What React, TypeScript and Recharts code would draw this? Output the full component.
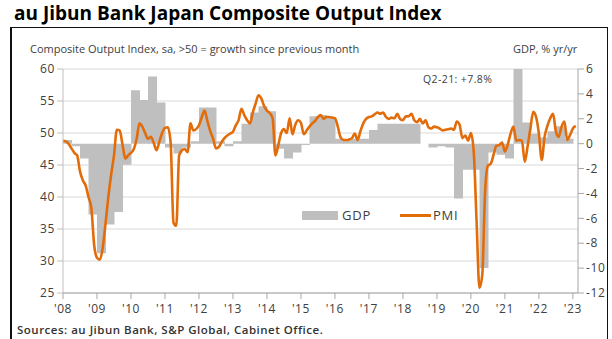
import { ComposedChart, Bar, Line, XAxis, YAxis, CartesianGrid } from "recharts";

// PMI composite output index, monthly from Jan 2008 to Feb 2023
const START_YEAR = 2008;
const pmiMonthly = [
  48.8, 48.7, 48.3, 47.6, 46.9, 46.5, 44.0, 42.6, 41.8, 40.0, 38.3, 32.5,
  30.5, 30.2, 32.0, 35.8, 40.0, 43.5, 46.5, 50.5, 50.4, 48.2, 46.0, 46.5,
  46.9, 47.5, 49.1, 51.5, 51.0, 50.0, 49.1, 49.4, 48.5, 47.3, 48.6, 50.0,
  50.8, 50.9, 48.5, 36.0, 35.5, 46.5, 47.3, 47.5, 47.0, 51.5, 50.4, 50.6,
  51.2, 52.5, 53.5, 51.8, 50.3, 49.1, 47.6, 47.8, 48.6, 49.2, 49.6, 49.9,
  50.2, 51.2, 52.0, 53.8, 52.8, 52.0, 51.5, 53.2, 54.6, 55.9, 55.4, 54.2,
  53.5, 53.1, 52.3, 46.5, 48.1, 50.0, 50.6, 50.0, 52.3, 49.8, 51.3, 52.0,
  51.6, 49.8, 50.4, 51.0, 51.5, 51.9, 52.5, 52.8, 52.2, 52.5, 52.5, 52.4,
  52.3, 51.0, 49.3, 48.9, 48.9, 49.0, 49.2, 49.9, 48.9, 50.3, 51.5, 52.2,
  52.5, 52.6, 52.9, 53.2, 53.0, 53.2, 52.5, 52.2, 52.4, 52.3, 53.0, 52.2,
  52.0, 52.6, 52.6, 53.0, 52.0, 51.7, 52.2, 51.5, 52.0, 50.9, 50.7, 51.0,
  50.9, 50.7, 50.4, 50.5, 50.6, 50.7, 50.5, 51.8, 51.3, 49.2, 49.6, 48.8,
  50.0, 47.0, 36.2, 25.8, 27.8, 40.8, 44.9, 45.2, 46.6, 48.0, 48.1, 48.5,
  47.1, 48.2, 49.9, 51.0, 48.8, 48.9, 48.8, 45.5, 47.9, 50.7, 53.3, 52.5,
  49.9, 45.8, 49.4, 51.1, 52.3, 53.0, 50.2, 49.4, 51.0, 51.8, 48.9, 49.7,
  50.7, 51.1,
];

// real GDP, % yr/yr, quarterly from Q1 2008 to Q4 2022
const gdpQuarterly = [
  0.3, -0.2, -1.2, -5.7,
  -8.8, -6.5, -5.5, -1.7,
  4.3, 3.5, 5.4, 3.3,
  -0.3, -0.8, -0.3, 0.2,
  2.9, 2.9, 0.2, -0.2,
  0.2, 1.6, 2.5, 3.0,
  2.6, -0.4, -1.2, -0.7,
  -0.1, 2.2, 2.3, 2.1,
  0.4, 0.3, 0.4, 0.4,
  1.1, 1.6, 1.6, 1.6,
  1.6, 1.6, 0.0, -0.3,
  -0.2, -0.3, -4.4, -2.1,
  -2.1, -10.0, -0.7, -0.9,
  -1.2, 7.8, 1.7, 0.8,
  0.5, 1.0, 1.4, 0.4,
];

const yearTicks = [2008, 2009, 2010, 2011, 2012, 2013, 2014, 2015, 2016, 2017, 2018, 2019, 2020, 2021, 2022, 2023];
const pmiTicks = [25, 30, 35, 40, 45, 50, 55, 60];
const gdpTicks = [-12, -10, -8, -6, -4, -2, 0, 2, 4, 6];

const pmiRows = pmiMonthly.map((v, i) => ({ t: START_YEAR + i / 12, pmi: v }));
const gdpRows = gdpQuarterly.map((v, i) => ({
  q: `${START_YEAR + Math.floor(i / 4)}Q${(i % 4) + 1}`,
  gdp: v,
}));

const ORANGE = "#E36C0A";
const GREY = "#BFBFBF";
const TEXT = "#404040";
const FONT = '"Open Sans", sans-serif';

const tickStyle = { fill: TEXT, fontSize: 12, fontFamily: FONT, letterSpacing: 0.6 };

export default function App() {
  return (
    <div
      style={{
        position: "absolute",
        left: 0,
        top: 0,
        width: 612,
        height: 339,
        background: "#fff",
        overflow: "hidden",
        fontFamily: FONT,
      }}
    >
      <div style={{ position: "absolute", left: 14, top: 0, fontSize: 19, fontWeight: 700, color: "#000", whiteSpace: "nowrap" }}>
        au Jibun Bank Japan Composite Output Index
      </div>
      <div
        style={{
          position: "absolute",
          left: 10,
          top: 27,
          width: 595,
          height: 330,
          borderLeft: "2px solid #111",
          borderTop: "1px solid #111",
          borderRight: "1px solid #111",
        }}
      />
      <div style={{ position: "absolute", left: 30, top: 41, fontSize: 11, color: TEXT, whiteSpace: "nowrap" }}>
        Composite Output Index, sa, &gt;50 = growth since previous month
      </div>
      <div style={{ position: "absolute", left: 513, top: 41, fontSize: 11, color: TEXT, whiteSpace: "nowrap" }}>
        GDP, % yr/yr
      </div>

      <div style={{ position: "absolute", left: 0, top: 0 }}>
        <ComposedChart
          width={612}
          height={339}
          data={gdpRows}
          margin={{ top: 69, right: 5, bottom: 16, left: 23 }}
          barCategoryGap={0}
          barGap={0}
        >
          <CartesianGrid xAxisId="m" yAxisId="pmi" vertical={false} stroke="#D9D9D9" />
          <XAxis xAxisId="q" dataKey="q" type="category" hide padding={{ left: 0, right: 5 }} />
          <XAxis
            xAxisId="m"
            dataKey="t"
            type="number"
            domain={[2008, 2023.15]}
            allowDataOverflow
            ticks={yearTicks}
            tickFormatter={(v: number) => "'" + String(v).slice(2)}
            stroke="#A6A6A6"
            tick={tickStyle}
            tickMargin={5}
            height={30}
          />
          <YAxis
            yAxisId="pmi"
            domain={[25, 60]}
            ticks={pmiTicks}
            stroke="#BFBFBF"
            tick={tickStyle}
            width={40}
          />
          <YAxis
            yAxisId="gdp"
            orientation="right"
            domain={[-12, 6]}
            ticks={gdpTicks}
            allowDataOverflow
            stroke="#A6A6A6"
            tick={tickStyle}
            width={29}
          />
          <Bar xAxisId="q" yAxisId="gdp" dataKey="gdp" fill={GREY} isAnimationActive={false} />
          <Line
            xAxisId="m"
            yAxisId="pmi"
            data={pmiRows}
            dataKey="pmi"
            type="monotone"
            stroke={ORANGE}
            strokeWidth={2.6}
            dot={false}
            isAnimationActive={false}
          />
        </ComposedChart>
      </div>

      <div style={{ position: "absolute", left: 423, top: 72, fontSize: 10.5, color: TEXT, whiteSpace: "nowrap", letterSpacing: 0.4 }}>
        Q2-21: +7.8%
      </div>

      <div style={{ position: "absolute", left: 302, top: 211, width: 36, height: 9, background: GREY }} />
      <div style={{ position: "absolute", left: 342, top: 206, fontSize: 13, color: TEXT, letterSpacing: 0.8 }}>GDP</div>
      <div style={{ position: "absolute", left: 400, top: 214, width: 31, height: 2.5, background: ORANGE }} />
      <div style={{ position: "absolute", left: 433, top: 206, fontSize: 13, color: TEXT, letterSpacing: 0.8 }}>PMI</div>

      <div style={{ position: "absolute", left: 17, top: 322, fontSize: 11.5, fontWeight: 600, color: "#333", whiteSpace: "nowrap", letterSpacing: 0.5 }}>
        Sources: au Jibun Bank, S&amp;P Global, Cabinet Office.
      </div>
    </div>
  );
}
